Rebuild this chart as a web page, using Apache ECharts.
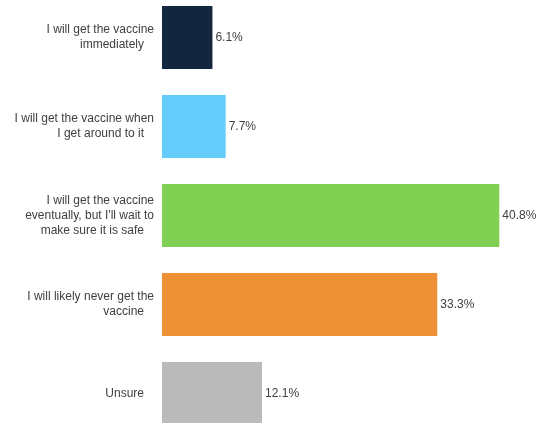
<!DOCTYPE html>
<html>
<head>
<meta charset="utf-8">
<script src="https://cdn.jsdelivr.net/npm/echarts@6/dist/echarts.min.js"></script>
<style>
html,body{margin:0;padding:0;background:#ffffff;}
#chart{width:536px;height:423px;}
</style>
</head>
<body>
<div id="chart"></div>
<script>
var categories = [
  "I will get the vaccine\nimmediately",
  "I will get the vaccine when\nI get around to it",
  "I will get the vaccine\neventually, but I'll wait to\nmake sure it is safe",
  "I will likely never get the\nvaccine",
  "Unsure"
];
var values = [6.1, 7.7, 40.8, 33.3, 12.1];
var palette = ["#13263f", "#63ccfb", "#80d054", "#ee9136", "#bababa"];

var chart = echarts.init(document.getElementById('chart'));
var font = "'Liberation Sans', Arial, sans-serif";
chart.setOption({
  animation: false,
  backgroundColor: '#ffffff',
  grid: { left: 162, right: 2, top: -7, height: 445, containLabel: false, outerBoundsMode: 'none' },
  xAxis: {
    type: 'value', min: 0, max: 45,
    show: false
  },
  yAxis: {
    type: 'category', data: categories, inverse: true,
    axisLine: { show: false }, axisTick: { show: false },
    splitLine: { show: false },
    axisLabel: {
      margin: 8,
      align: 'right',
      fontFamily: font, fontSize: 12, color: '#404040', lineHeight: 15,
      formatter: function (v) {
        var lines = v.split('\n');
        return lines.map(function (l, i) {
          return (i === lines.length - 1) ? '{last|' + l + '}' : '{n|' + l + '}';
        }).join('\n');
      },
      rich: {
        n: { fontFamily: font, fontSize: 12, color: '#404040', lineHeight: 15 },
        last: { fontFamily: font, fontSize: 12, color: '#404040', lineHeight: 15, padding: [0, 10, 0, 0] }
      }
    }
  },
  series: [{
    type: 'bar',
    data: values.map(function (v, i) { return { value: v, itemStyle: { color: palette[i] } }; }),
    barWidth: '71%',
    label: {
      show: true, position: 'right', distance: 3,
      fontFamily: font, fontSize: 12, color: '#404040',
      formatter: function (p) { return p.value.toFixed(1) + '%'; }
    }
  }]
});
</script>
</body>
</html>
